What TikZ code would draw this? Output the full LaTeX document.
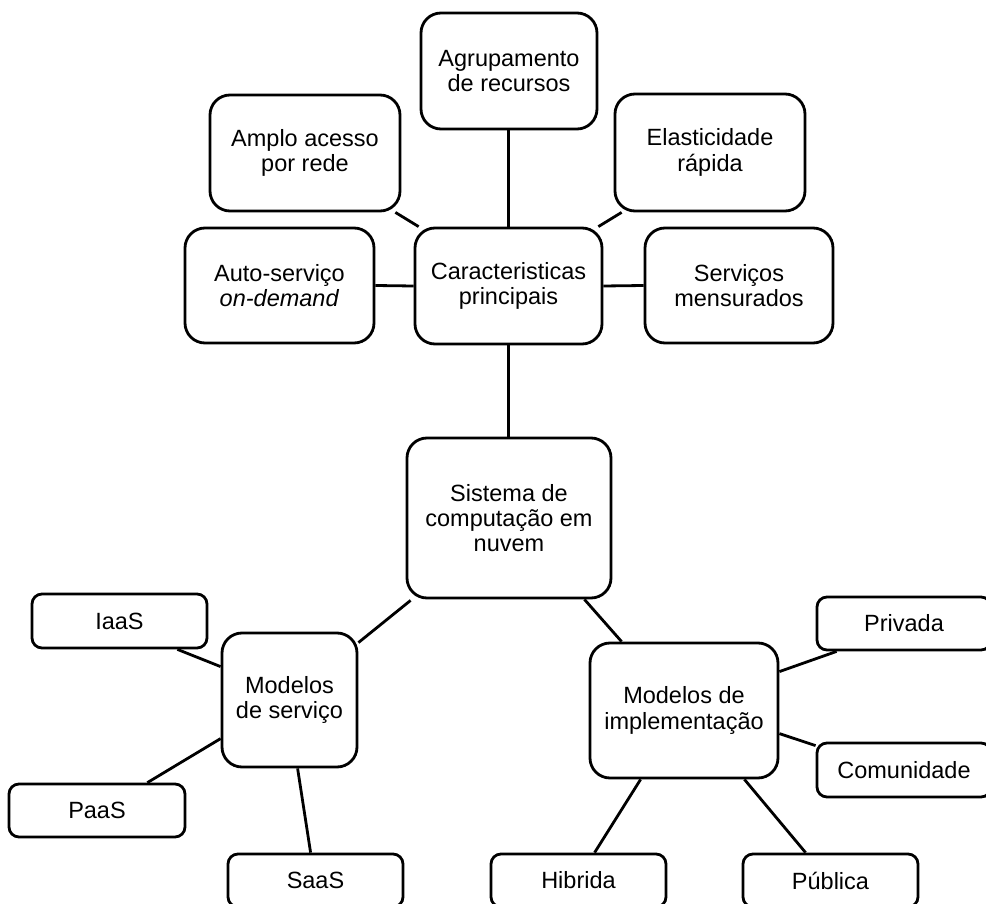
\documentclass[tikz,border=0pt]{standalone}
\usepackage{fontspec}
\setmainfont{Liberation Sans}
\usetikzlibrary{calc}
% \placebox{name}{style}{left}{top}{right}{bottom}{text}
\newcommand\placebox[7]{%
  \node[#2, minimum width={(#5-#3)*0.5pt}, minimum height={(#6-#4)*0.5pt}]
    (#1) at ({(#3+#5)/2},{(#4+#6)/2}) {#7};}
\begin{document}
\begin{tikzpicture}[x=0.5pt,y=-0.5pt,
  box/.style={draw, line width=1.4pt, align=center, inner sep=0pt,
    font=\fontsize{11.75}{12.6}\selectfont},
  bigbox/.style={box, rounded corners=10pt},
  smallbox/.style={box, rounded corners=5pt},
  link/.style={line width=1.4pt}]
\useasboundingbox (0,0) rectangle (986,904);
\fill[white] (0,0) rectangle (986,904);

% characteristics cluster
\placebox{agr}{bigbox}{421}{13}{597}{129}{Agrupamento\\de recursos}
\placebox{amplo}{bigbox}{210}{95}{400}{211}{Amplo acesso\\por rede}
\placebox{elast}{bigbox}{615}{94}{805}{211}{Elasticidade\\rápida}
\placebox{auto}{bigbox}{185}{228}{374}{343}{Auto-serviço\\\textit{on-demand}}
\placebox{carac}{bigbox}{415}{228}{602}{344}{Caracteristicas\\principais}
\placebox{serv}{bigbox}{645}{228}{833}{343}{Serviços\\mensurados}

% central node
\placebox{sist}{bigbox}{407}{438}{611}{598}{Sistema de\\computação em\\nuvem}

% service models
\placebox{servico}{bigbox}{222}{633}{357}{767}{Modelos\\de serviço}
\placebox{iaas}{smallbox}{32}{594}{207}{648}{IaaS}
\placebox{paas}{smallbox}{9}{784}{185}{837}{PaaS}
\placebox{saas}{smallbox}{228}{854}{403}{907}{SaaS}

% deployment models
\placebox{impl}{bigbox}{590}{643}{778}{778}{Modelos de\\implementação}
\placebox{priv}{smallbox}{817}{597}{991}{650}{Privada}
\placebox{com}{smallbox}{817}{743}{991}{797}{Comunidade}
\placebox{hib}{smallbox}{491}{854}{666}{907}{Hibrida}
\placebox{pub}{smallbox}{743}{854}{918}{907}{Pública}

% connectors
\draw[link] (carac.north) -- (carac.north |- agr.south);
\draw[link] ($(amplo.south east)+(-6,0)$) -- ($(carac.north west)+(5,0)$);
\draw[link] ($(elast.south west)+(8,0)$) -- ($(carac.north east)+(-5,0)$);
\draw[link] (auto.east) -- (carac.west);
\draw[link] (carac.east) -- (serv.west);
\draw[link] (carac.south) -- (carac.south |- sist.north);
\draw[link] ($(sist.south west)+(5,1)$) -- ($(servico.north east)+(0,11)$);
\draw[link] ($(sist.south east)+(-28,0)$) -- ($(impl.north west)+(33,0)$);
\draw[link] ($(iaas.south east)+(-31,0)$) -- ($(servico.north west)+(0,35)$);
\draw[link] ($(paas.north east)+(-39,0)$) -- ($(servico.north west)+(0,107)$);
\draw[link] ($(servico.south west)+(77,0)$) -- ($(saas.north west)+(84,0)$);
\draw[link] ($(impl.north east)+(0,30)$) -- ($(priv.south west)+(21,0)$);
\draw[link] ($(impl.north east)+(0,92)$) -- ($(com.north west)+(0,4)$);
\draw[link] ($(impl.south west)+(52,0)$) -- ($(hib.north west)+(105,0)$);
\draw[link] ($(impl.south east)+(-35,0)$) -- ($(pub.north west)+(64,0)$);
\end{tikzpicture}
\end{document}
